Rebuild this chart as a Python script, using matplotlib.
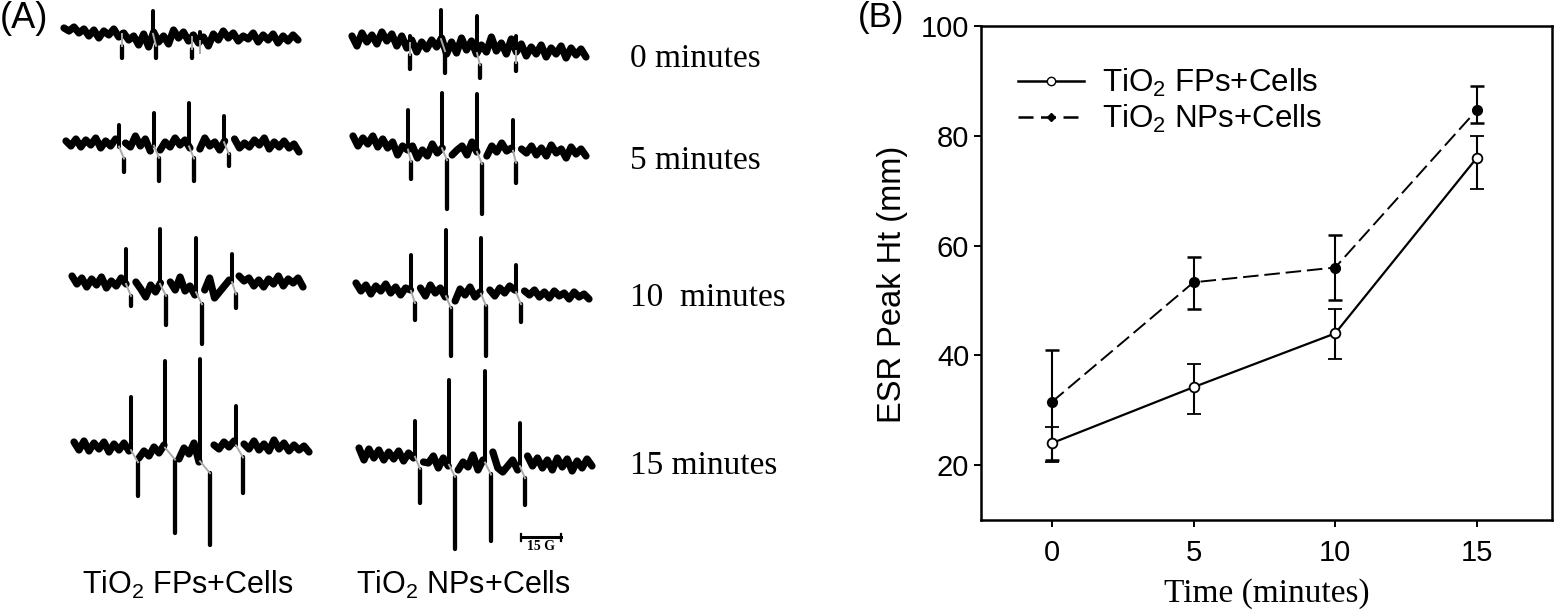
import numpy as np
import matplotlib
matplotlib.use("Agg")
import matplotlib.pyplot as plt
from matplotlib.lines import Line2D

plt.rcParams["font.family"] = ["Liberation Sans", "DejaVu Sans"]
plt.rcParams["mathtext.default"] = "regular"

# Panel B values
TIME = [0, 5, 10, 15]
FP_MEAN = [24, 34.2, 44, 76]
FP_LOW = [20.5, 29.3, 39.3, 70.3]
FP_HIGH = [27, 38.4, 48.4, 80]
NP_MEAN = [31.5, 53.3, 56, 84.7]
NP_LOW = [21, 48.4, 50, 82.3]
NP_HIGH = [41, 58, 62, 89]
Y_TICKS = [20, 40, 60, 80, 100]

# Panel A, spectra in image pixels
FP_X = [(64, 298), (66, 299), (72, 303), (74, 309)]
NP_X = [(352, 586), (353, 586), (356, 589), (359, 592)]

FP0 = [28, 31, 27, 33, 29, 36, 30, 38, 31, 35, 29, 37, 33, 40, 36, 45, 34, 47, 32, 42, 36, 44, 30, 38,
       32, 41, 35, 43, 37, 46, 34, 40, 31, 38, 33, 41, 36, 39, 33, 42, 35, 40, 34, 43, 36, 41, 35, 40]
FP5 = [141, 146, 139, 147, 140, 145, 138, 148, 141, 146, 139, 150, 143, 147, 136, 146, 139, 151, 144,
       150, 142, 147, 138, 145, 140, 148, 141, 149, 138, 146, 142, 150, 141, 146, 139, 148, 143, 147,
       140, 145, 138, 149, 142, 147, 141, 148, 144, 152]
FP10 = [276, 284, 278, 287, 279, 285, 277, 288, 281, 286, 278, 284, 276, 282, 289, 297, 285, 292, 283,
        294, 282, 290, 277, 291, 286, 295, 283, 290, 278, 298, 292, 286, 280, 284, 276, 281, 278, 286,
        280, 287, 279, 284, 276, 286, 279, 283, 278, 287]
FP15 = [442, 450, 441, 451, 443, 449, 442, 452, 444, 450, 443, 451, 449, 458, 451, 456, 447, 453, 445,
        458, 452, 459, 448, 454, 443, 462, 458, 452, 445, 449, 442, 447, 441, 452, 444, 449, 441, 450,
        444, 451, 440, 449, 443, 451, 445, 450, 446, 452]
NP0 = [36, 46, 33, 42, 35, 44, 32, 41, 34, 46, 36, 48, 40, 52, 42, 49, 40, 47, 38, 54, 42, 53, 38, 50,
       41, 54, 45, 52, 37, 51, 43, 54, 39, 52, 44, 56, 47, 54, 45, 57, 48, 54, 46, 58, 48, 55, 49, 57]
NP5 = [136, 146, 138, 144, 136, 147, 139, 148, 142, 155, 146, 150, 146, 158, 150, 156, 144, 153, 148,
       158, 155, 150, 146, 155, 142, 152, 148, 156, 146, 152, 143, 151, 148, 158, 149, 153, 146, 155,
       148, 156, 145, 153, 149, 158, 147, 154, 149, 156]
NP10 = [283, 291, 285, 294, 286, 291, 284, 293, 287, 295, 288, 290, 300, 288, 296, 285, 293, 288, 297,
        292, 301, 289, 295, 287, 297, 292, 300, 290, 296, 288, 293, 286, 290, 298, 291, 295, 290, 297,
        292, 298, 291, 296, 293, 299, 292, 297, 294, 299]
NP15 = [448, 460, 449, 458, 450, 460, 452, 459, 451, 461, 453, 458, 454, 462, 463, 456, 468, 458, 466,
        458, 470, 462, 467, 455, 470, 460, 466, 452, 468, 472, 466, 460, 470, 462, 456, 466, 458, 468,
        460, 470, 458, 467, 459, 471, 461, 468, 459, 466]

# spike x, top (up) and x, bottom (down)
FP_UP = [[(122, 32), (153, 11), (192, 34), (200, 32)],
         [(119, 125), (154, 113), (189, 103), (224, 116)],
         [(126, 249), (160, 229), (196, 238), (232, 254)],
         [(131, 397), (165, 361), (200, 359), (236, 406)]]
FP_DOWN = [[(122, 58), (156, 58), (192, 58), (200, 53)],
           [(124, 172), (159, 181), (194, 181), (229, 166)],
           [(131, 306), (166, 325), (202, 344), (236, 308)],
           [(138, 496), (175, 533), (210, 545), (243, 493)]]
NP_UP = [[(410, 36), (441, 10), (477, 16), (516, 36)],
         [(408, 110), (442, 93), (477, 94), (513, 120)],
         [(411, 255), (446, 230), (481, 238), (516, 265)],
         [(415, 421), (449, 380), (485, 371), (520, 423)]]
NP_DOWN = [[(410, 69), (445, 73), (480, 78), (516, 71)],
           [(411, 179), (447, 209), (482, 214), (516, 183)],
           [(415, 320), (451, 356), (486, 356), (521, 322)],
           [(420, 503), (455, 549), (491, 541), (525, 505)]]

TIME_LABELS = ["0 minutes", "5 minutes", "10  minutes", "15 minutes"]
TIME_LABEL_Y = [59, 161, 298, 466]


def draw_trace(ax, x_range, trace, up, down):
    xs = np.linspace(x_range[0], x_range[1], len(trace))
    ys = np.array(trace, dtype=float)
    for (xu, _), (xd, _) in zip(up, down):
        # the trace breaks between the up and the down lobe
        ys[(xs > xu + 1) & (xs < xd + 1)] = np.nan
    ax.plot(xs, ys, color="black", lw=5.2, solid_capstyle="round", solid_joinstyle="round")
    for (xu, top), (xd, bottom) in zip(up, down):
        base = np.interp(xu, xs, trace)
        ax.plot([xu, xu], [base, top], color="black", lw=2.9, solid_capstyle="round")
        ax.plot([xd, xd], [base + 12, bottom], color="black", lw=3.1, solid_capstyle="round")
        ax.plot([xu, xd], [base, base + 12], color="#aaaaaa", lw=1.4)


fig = plt.figure(figsize=(15.55, 6.12), dpi=100)

# Panel A in picture pixels
ax_a = fig.add_axes([0, 0, 1, 1])
ax_a.set_xlim(0, 1555)
ax_a.set_ylim(612, 0)
ax_a.axis("off")

fp_traces = [FP0, FP5, FP10, FP15]
np_traces = [NP0, NP5, NP10, NP15]
for i in range(4):
    draw_trace(ax_a, FP_X[i], fp_traces[i], FP_UP[i], FP_DOWN[i])
    draw_trace(ax_a, NP_X[i], np_traces[i], NP_UP[i], NP_DOWN[i])
    ax_a.text(630, TIME_LABEL_Y[i], TIME_LABELS[i], family="Liberation Serif", fontsize=24,
              va="center", ha="left")

ax_a.text(0, 18, "(A)", fontsize=26, va="center", ha="left")
ax_a.text(858, 18, "(B)", fontsize=25, va="center", ha="left")
ax_a.text(82, 585, "TiO$_2$ FPs+Cells", fontsize=22, va="center", ha="left")
ax_a.text(356, 585, "TiO$_2$ NPs+Cells", fontsize=22, va="center", ha="left")

# scale bar
ax_a.plot([521, 561], [537, 537], color="black", lw=2.2)
ax_a.plot([521, 521], [534, 541], color="black", lw=1.6)
ax_a.plot([561, 561], [534, 541], color="black", lw=1.6)
ax_a.text(541, 547, "15 G", family="Liberation Serif", fontweight="bold", fontsize=10,
          va="center", ha="center")

# Panel B
ax_b = fig.add_axes([981 / 1555, 92 / 612, 571 / 1555, 494 / 612])
ax_b.patch.set_alpha(0)
fp_err = [np.subtract(FP_MEAN, FP_LOW), np.subtract(FP_HIGH, FP_MEAN)]
np_err = [np.subtract(NP_MEAN, NP_LOW), np.subtract(NP_HIGH, NP_MEAN)]
ax_b.errorbar(TIME, FP_MEAN, yerr=fp_err, color="black", lw=1.6, elinewidth=1.5, capsize=5,
              capthick=1.8, marker="o", ms=7, mfc="white", mec="black", mew=1.3)
ax_b.errorbar(TIME, NP_MEAN, yerr=np_err, color="black", lw=1.4, elinewidth=1.5, capsize=5,
              capthick=1.8, marker="o", ms=7, mfc="black", mec="black", dashes=(8, 3))
ax_b.set_xlim(-2.5, 17.65)
ax_b.set_ylim(10, 100)
ax_b.set_xticks(TIME)
ax_b.set_yticks(Y_TICKS)
ax_b.tick_params(labelsize=21, width=1.4, length=5)
ax_b.tick_params(axis="x", pad=9)
for side in ax_b.spines.values():
    side.set_linewidth(1.8)
ax_b.set_xlabel("Time (minutes)", family="Liberation Serif", fontsize=24, labelpad=8)
ax_b.set_ylabel("ESR Peak Ht (mm)", fontsize=23.5, labelpad=9, y=0.476)

handles = [
    Line2D([], [], color="black", lw=1.8, marker="o", ms=6, mfc="white", mec="black"),
    Line2D([], [], color="black", lw=1.8, marker="D", ms=4.5, mfc="black", mec="black", dashes=(6, 3)),
]
ax_b.legend(handles, ["TiO$_2$ FPs+Cells", "TiO$_2$ NPs+Cells"], loc="upper left",
            bbox_to_anchor=(0.065, 0.917), frameon=False, fontsize=22.5, borderaxespad=0, borderpad=0,
            handlelength=2.1, handletextpad=0.6, labelspacing=0.13)

fig.savefig("out.png", dpi=100)
